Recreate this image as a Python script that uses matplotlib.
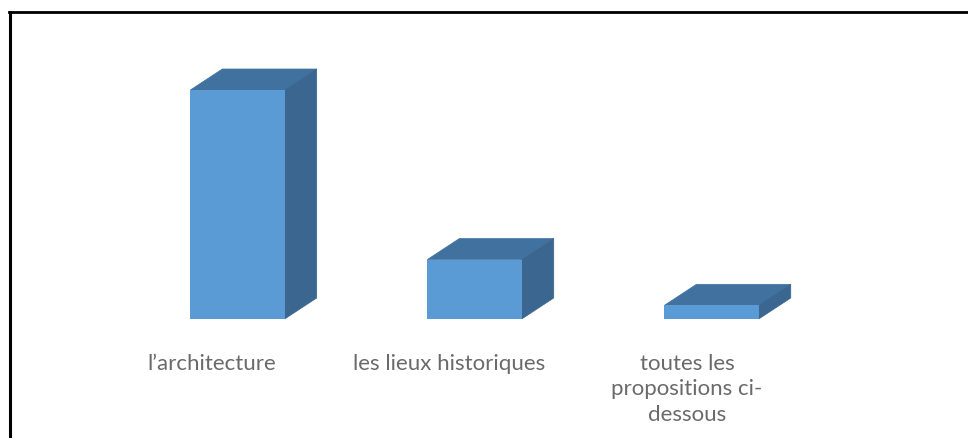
import matplotlib
matplotlib.use("Agg")
import matplotlib.pyplot as plt
from matplotlib.patches import Polygon

categories = ["l’architecture", "les lieux historiques", "toutes les\npropositions ci-\ndessous"]
values = [77, 20, 4.6]

W, H = 968, 439
FRONT = "#5b9bd5"
TOP = "#41719f"
SIDE = "#3a6690"
TEXT = "#6a6a6a"

plt.rcParams["font.family"] = ["Lato", "DejaVu Sans"]

fig = plt.figure(figsize=(W / 100, H / 100), dpi=100)

# axes placed so that 1 category = 237 px and baseline sits at y=320 px
x_left, x_right = 119, 832
y_base, y_top = 320, 91
ax = fig.add_axes([x_left / W, 1 - y_base / H, (x_right - x_left) / W, (y_base - y_top) / H])
ax.set_xlim(-0.5, 2.508)
ax.set_ylim(0, 77)
ax.axis("off")

bar_w = 0.398
# depth of the fake 3d block, in data units
dx = 32 / 237
dy = 21 * 77 / 229

for i, v in enumerate(values):
    l, r = i - bar_w / 2, i + bar_w / 2
    ax.add_patch(Polygon([(l, v), (r, v), (r + dx, v + dy), (l + dx, v + dy)],
                         facecolor=TOP, edgecolor=TOP, lw=0.5, clip_on=False))
    ax.add_patch(Polygon([(r, 0), (r + dx, dy), (r + dx, v + dy), (r, v)],
                         facecolor=SIDE, edgecolor=SIDE, lw=0.5, clip_on=False))
ax.bar(range(len(values)), values, width=bar_w, color=FRONT, linewidth=0, zorder=3)

# category labels sit a bit left of the bars
label_x = [212, 449.5, 687]
for lx, name in zip(label_x, categories):
    fig.text(lx / W, 1 - 354 / H, name, ha="center", va="top", fontsize=16,
             color=TEXT, linespacing=1.34)

# black frame round the picture, open at the bottom and right
fig.add_artist(plt.Line2D([9.5 / W, 9.5 / W], [0, 1 - 12.5 / H], color="black", lw=2.2))
fig.add_artist(plt.Line2D([9 / W, 1], [1 - 12.5 / H, 1 - 12.5 / H], color="black", lw=2.0))

fig.savefig("out.png", dpi=100)
